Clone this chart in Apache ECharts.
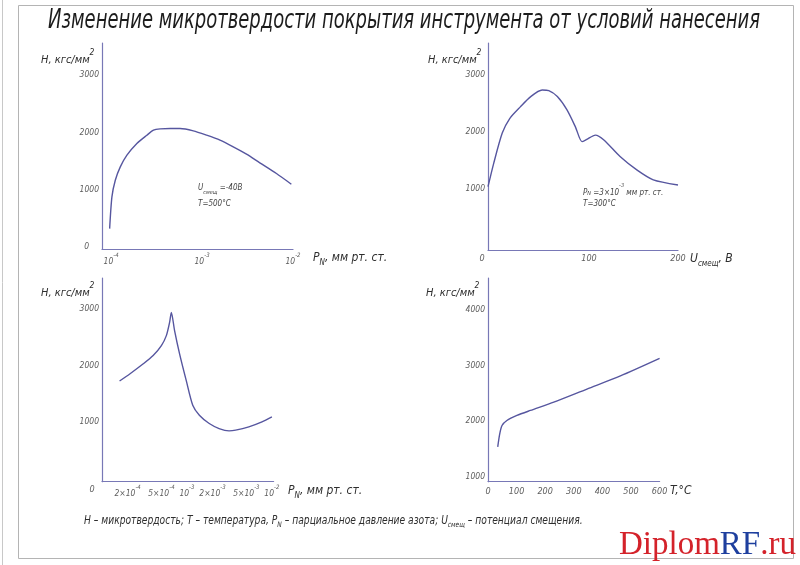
<!DOCTYPE html>
<html><head><meta charset="utf-8">
<script src="https://cdn.jsdelivr.net/npm/echarts@6/dist/echarts.min.js"></script>
<style>html,body{margin:0;padding:0;background:#fff}#c{width:800px;height:565px}</style>
</head><body><div id="c"></div>
<script>
// ---- Chart 1: H vs P(N2), U = -40 V, T = 500 °C ----
const p1 = [9.64e-5, 1.021e-4, 1.112e-4, 1.262e-4, 1.493e-4, 1.919e-4, 2.472e-4, 2.924e-4, 3.459e-4, 4.457e-4, 5.728e-4, 8.017e-4, 1.122e-3, 1.574e-3, 2.203e-3, 3.083e-3, 4.315e-3, 6.577e-3, 9.594e-3];
const h1 = [320, 874, 1165, 1398, 1602, 1806, 1951, 2039, 2062, 2068, 2068, 2027, 1951, 1864, 1748, 1619, 1468, 1282, 1095];
// ---- Chart 2: H vs U bias, P = 3e-3, T = 300 °C ----
const u2 = [0, 6, 15, 23, 34, 45, 57, 64, 73, 83, 92, 99, 104, 113, 122, 139, 157, 174, 200];
const h2 = [1040, 1450, 1980, 2240, 2440, 2620, 2735, 2725, 2620, 2390, 2090, 1830, 1870, 1945, 1860, 1570, 1330, 1160, 1070];
// ---- Chart 3: H vs P(N2) ----
const p3 = [1.61e-4, 2.14e-4, 3.06e-4, 4.0e-4, 5.0e-4, 5.72e-4, 6.25e-4, 6.55e-4, 7.15e-4, 8.19e-4, 9.8e-4, 1.17e-3, 1.4e-3, 1.83e-3, 2.39e-3, 3.13e-3, 3.74e-3, 5.35e-3, 7.64e-3, 1.0e-2];
const h3 = [1724, 1853, 2029, 2176, 2353, 2529, 2765, 2941, 2618, 2206, 1735, 1294, 1118, 971, 882, 841, 853, 912, 1000, 1088];
// ---- Chart 4: H vs T ----
const t4 = [34, 41, 49, 66, 101, 148, 230, 346, 463, 600];
const h4 = [1535, 1770, 1920, 2010, 2100, 2190, 2340, 2575, 2810, 3125];

// ---- tick labels ----
const yTicks1 = [0, 1000, 2000, 3000];
const yTicks2 = [1000, 2000, 3000];
const yTicks3 = [1000, 2000, 3000];
const yTicks4 = [1000, 2000, 3000, 4000];
const x1Ticks = [1e-4, 1e-3, 1e-2];
const x2Ticks = [0, 100, 200];
const x3Ticks = [1e-4, 2e-4, 5e-4, 1e-3, 2e-3, 5e-3, 1e-2];
const x3Labels = ['0', '2×10', '5×10', '10', '2×10', '5×10', '10'];
const x3Exps = ['', '-4', '-4', '-3', '-3', '-3', '-2'];
const x4Ticks = [0, 100, 200, 300, 400, 500, 600];

const FAM = '"Liberation Sans Narrow","DejaVu Sans Condensed","Noto Sans",sans-serif';
const LINE = '#56569f';
const AXIS = '#7878b6';
const LBL = '#5e5e5e';
const TXT = '#2e2e2e';

const lg = v => Math.log10(v);

function lab(size, extra) {
  return Object.assign({ fontSize: size, fontStyle: 'italic', fontFamily: FAM, color: LBL }, extra || {});
}
const supRich = {
  n: lab(8.5, { verticalAlign: 'bottom', padding: [5, 0, 0, 0] }),
  s: lab(6, { verticalAlign: 'top' }),
  z: lab(9, { padding: [0, 20, 0, 0] }),
  zl: lab(9, { padding: [0, 12, 0, 0] }),
  r: lab(9, { padding: [0, 0, 0, 12] }),
  y0: lab(8.5, { padding: [0, 10, 0, 0] })
};

function xAxisBase(i, min, max, vals, fmt, margin) {
  return {
    gridIndex: i, type: 'value', min: min, max: max,
    axisLine: { show: true, onZero: false, lineStyle: { color: AXIS, width: 1.2 } },
    axisTick: { show: false }, splitLine: { show: false },
    axisLabel: Object.assign(lab(9), { customValues: vals, formatter: fmt, rich: supRich, margin: margin, hideOverlap: false })
  };
}
function yAxisBase(i, min, max, vals, fmt) {
  return {
    gridIndex: i, type: 'value', min: min, max: max,
    axisLine: { show: true, onZero: false, lineStyle: { color: AXIS, width: 1.2 } },
    axisTick: { show: false }, splitLine: { show: false },
    axisLabel: Object.assign(lab(8.5), { customValues: vals, formatter: fmt, rich: supRich, margin: 3, hideOverlap: false })
  };
}

function near(arr, v) { return arr.findIndex(t => Math.abs(t - v) < 1e-6); }

const x1Vals = x1Ticks.map(lg);
const x3Vals = x3Ticks.map(lg);

function series(i, xs, ys, tr) {
  return {
    type: 'line', xAxisIndex: i, yAxisIndex: i, showSymbol: false, smooth: 0.25, silent: true,
    lineStyle: { color: LINE, width: 1.4 },
    data: xs.map((x, k) => [tr ? tr(x) : x, ys[k]])
  };
}

// ---- text helpers for graphic ----
function ts(size, extra) {
  return Object.assign({ fontSize: size, fontStyle: 'italic', fontFamily: FAM, fill: TXT }, extra || {});
}
const nameRich = {
  m: ts(11, { verticalAlign: 'bottom', padding: [6, 0, 0, 0] }),
  p: ts(8.5, { verticalAlign: 'top' }),
  a: ts(12, { verticalAlign: 'top' }),
  b: ts(8, { verticalAlign: 'bottom', padding: [7, 0, 0, 0] }),
  sa: ts(8, { verticalAlign: 'top', fill: '#444' }),
  sb: ts(5.5, { verticalAlign: 'bottom', padding: [6, 0, 0, 0], fill: '#444' }),
  sm: ts(8, { verticalAlign: 'bottom', padding: [6, 0, 0, 0], fill: '#444' }),
  sp: ts(5.5, { verticalAlign: 'top', fill: '#444' }),
  f: ts(11.5, { verticalAlign: 'top' }),
  fb: ts(7.5, { verticalAlign: 'bottom', padding: [6, 0, 0, 0] })
};
function rtext(x, y, text, sx) {
  return { type: 'text', x: x, y: y, scaleX: sx || 1, silent: true,
    style: { text: text, rich: nameRich, align: 'left', verticalAlign: 'middle', font: 'italic 12px ' + FAM, fill: TXT } };
}
const yName = '{m|H, кгс/мм}{p|2}';

// title width fitting
const TITLE = 'Изменение микротвердости покрытия инструмента от условий нанесения';
const titleFont = 'italic 26px ' + FAM;
const cv = document.createElement('canvas').getContext('2d');
cv.font = titleFont;
const titleScale = 712 / cv.measureText(TITLE).width;

const chart = echarts.init(document.getElementById('c'), null, { renderer: 'canvas' });
chart.setOption({
  backgroundColor: '#ffffff',
  animation: false,
  grid: [
    { left: 102, top: 43, width: 191, height: 206, outerBoundsMode: 'none' },
    { left: 488, top: 43, width: 190, height: 207, outerBoundsMode: 'none' },
    { left: 102, top: 278, width: 171.6, height: 203.7, outerBoundsMode: 'none' },
    { left: 488, top: 278, width: 171.6, height: 203.7, outerBoundsMode: 'none' }
  ],
  xAxis: [
    xAxisBase(0, -4.1, -2, x1Vals, v => '{n|10}{s|' + Math.round(v) + '}', 3),
    xAxisBase(1, 0, 200, x2Ticks, v => v === 0 ? '{zl|0}' : (v === 100 ? '{r|100}' : String(v)), 4),
    xAxisBase(2, -4, -1.98, x3Vals, v => { const k = near(x3Vals, v); return k === 0 ? '{z|0}' : '{n|' + x3Labels[k] + '}{s|' + x3Exps[k] + '}'; }, 3),
    xAxisBase(3, 0, 600, x4Ticks, v => String(v), 5)
  ],
  yAxis: [
    yAxisBase(0, -35, 3560, yTicks1, v => v === 0 ? '{y0|0}' : String(v)),
    yAxisBase(1, -70, 3560, yTicks2, v => String(v)),
    yAxisBase(2, -60, 3550, yTicks3, v => String(v)),
    yAxisBase(3, 910, 4570, yTicks4, v => String(v))
  ],
  series: [
    series(0, p1, h1, lg),
    series(1, u2, h2),
    series(2, p3, h3, lg),
    series(3, t4, h4)
  ],
  graphic: [
    // drawing frame
    { type: 'rect', silent: true, shape: { x: 18.5, y: 5.5, width: 775, height: 553 }, style: { fill: 'none', stroke: '#b4b4b4', lineWidth: 1 } },
    { type: 'line', silent: true, shape: { x1: 2.5, y1: 0, x2: 2.5, y2: 565 }, style: { stroke: '#c8c8c8', lineWidth: 1 } },
    // title
    { type: 'text', x: 48, y: 21, scaleX: titleScale, silent: true,
      style: { text: TITLE, font: titleFont, fill: '#1c1c1c', align: 'left', verticalAlign: 'middle' } },
    // y names
    rtext(41, 57, yName),
    rtext(428, 57, yName),
    rtext(41, 290, yName),
    rtext(426, 290, yName),
    // x names
    rtext(313, 259, '{a|P}{b|N}{a|, мм рт. ст.}'),
    rtext(690, 260, '{a|U}{b|смещ}{a|, В}'),
    rtext(288, 492, '{a|P}{b|N}{a|, мм рт. ст.}'),
    rtext(670, 491, '{a|T,°C}'),
    // annotations
    rtext(198, 190, '{sa|U}{sb|смещ}{sa| =-40В}'),
    rtext(198, 204, '{sa|T=500°C}'),
    rtext(583, 190, '{sm|P}{sb|N}{sm| =3×10}{sp|-3}{sm| мм рт. ст.}'),
    rtext(583, 204, '{sa|T=300°C}'),
    // footer
    rtext(84, 522, '{f|H – микротвердость; T – температура, P}{fb|N}{f| – парциальное давление азота; U}{fb|смещ}{f| – потенциал смещения.}', 0.885),
    // watermark
    { type: 'text', x: 619, y: 545, silent: true,
      style: { text: '{r|Diplom}{b|RF}{r|.ru}', align: 'left', verticalAlign: 'middle',
        rich: {
          r: { fontSize: 33, fontFamily: '"Liberation Serif","DejaVu Serif",serif', fill: '#d4222a' },
          b: { fontSize: 33, fontFamily: '"Liberation Serif","DejaVu Serif",serif', fill: '#1e3f9e' }
        } } }
  ]
});
</script>
</body></html>
